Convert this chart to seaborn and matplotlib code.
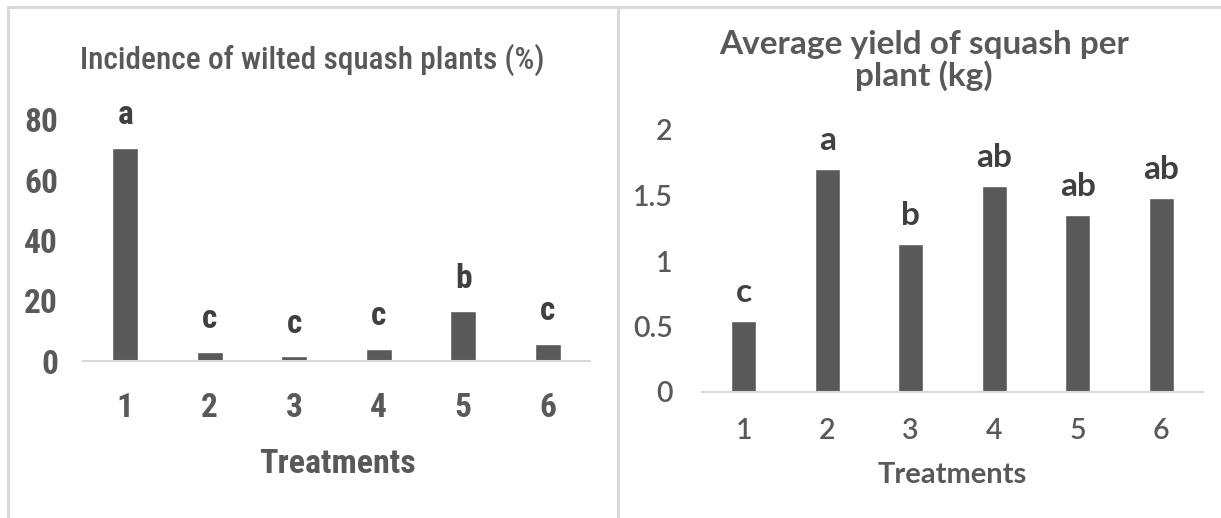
import os
import matplotlib
matplotlib.use("Agg")
import matplotlib.pyplot as plt
from matplotlib import font_manager
from matplotlib.font_manager import FontProperties
from matplotlib.lines import Line2D
import seaborn as sns
import pandas as pd

# Treatment numbers shared by both panels
treatments = ["1", "2", "3", "4", "5", "6"]

# Incidence of wilted squash plants (%)
wilt_pct = [70.8, 3.1, 1.6, 4.1, 16.5, 5.7]
wilt_letters = ["a", "c", "c", "c", "b", "c"]

# Average yield of squash per plant (kg)
yield_kg = [0.54, 1.70, 1.13, 1.57, 1.35, 1.48]
yield_letters = ["c", "a", "b", "ab", "ab", "ab"]

wilt_ticks = [0, 20, 40, 60, 80]
yield_ticks = [0, 0.5, 1, 1.5, 2]
yield_tick_labels = ["0", "0.5", "1", "1.5", "2"]

sns.set_theme(style="white")

_WEIGHT_WORDS = ["semibold", "extrabold", "extralight", "light", "thin",
                 "medium", "black", "bold"]


def _weight_of(key):
    for w in _WEIGHT_WORDS:
        if w in key:
            return w
    return "regular"


def narrow_font(weights):
    """FontProperties for an installed narrow / condensed sans face,
    trying the requested weights in order."""
    entries = []
    for f in font_manager.fontManager.ttflist:
        key = (f.name + " " + os.path.basename(f.fname)).lower()
        if not ("narrow" in key or "condensed" in key or "cond" in key):
            continue
        if "italic" in key or "oblique" in key:
            continue
        rank = 9
        for r, fam in enumerate(["liberation", "arial", "roboto", "open sans",
                                 "noto sans", "dejavu"]):
            if fam in key:
                rank = r
                break
        entries.append((rank, _weight_of(key), f.fname))
    for w in weights:
        cands = sorted(e for e in entries if e[1] == w)
        if cands:
            return FontProperties(fname=cands[0][2])
    return FontProperties(family="Liberation Sans",
                          weight="bold" if "bold" in weights else "normal")


NARROW_M = narrow_font(["medium", "regular"])
NARROW_B = narrow_font(["bold", "semibold"])

BAR = "#595959"
TXT = "#595959"
LET = "#404040"
EDGE = "#d9d9d9"
ROUND = ["Lato", "DejaVu Sans"]

W, H = 1221, 518
fig = plt.figure(figsize=(W / 100, H / 100), dpi=100)


def fx(px):
    return px / W


def fy(py):
    return 1 - py / H


def nfont(base, size):
    p = base.copy()
    p.set_size(size)
    return p


# Panel frames
for seg in [((8, 8), (7, H)), ((8, W), (7, 7)), ((617.5, 617.5), (7, H))]:
    fig.add_artist(Line2D([fx(seg[0][0]), fx(seg[0][1])],
                          [fy(seg[1][0]), fy(seg[1][1])],
                          color=EDGE, lw=2.2, transform=fig.transFigure))

df_wilt = pd.DataFrame({"Treatment": treatments, "Value": wilt_pct})
df_yield = pd.DataFrame({"Treatment": treatments, "Value": yield_kg})

# ---------- Left panel: wilt incidence ----------
ax1 = fig.add_axes([fx(83), fy(361), fx(590) - fx(83), fy(120) - fy(361)])
sns.barplot(data=df_wilt, x="Treatment", y="Value", color=BAR, width=0.31,
            saturation=1, ax=ax1)
ax1.set_xlim(-0.5, 5.5)
ax1.set_ylim(0, 80)
ax1.set_yticks(wilt_ticks)
ax1.set_yticklabels([str(t) for t in wilt_ticks])
for s in ["top", "right", "left"]:
    ax1.spines[s].set_visible(False)
ax1.spines["bottom"].set_color(EDGE)
ax1.spines["bottom"].set_linewidth(1.5)
ax1.tick_params(axis="both", length=0)
ax1.tick_params(axis="y", pad=18)
ax1.tick_params(axis="x", pad=22)
for lab in ax1.get_xticklabels() + ax1.get_yticklabels():
    lab.set_fontproperties(nfont(NARROW_B, 24))
    lab.set_color(TXT)
ax1.set_xlabel("")
ax1.set_ylabel("")
for i, (v, t) in enumerate(zip(wilt_pct, wilt_letters)):
    ax1.annotate(t, (i, v), xytext=(0, 17), textcoords="offset points",
                 ha="center", va="baseline", fontproperties=nfont(NARROW_B, 24),
                 color=LET)
fig.text(fx(312), fy(69), "Incidence of wilted squash plants (%)",
         ha="center", va="baseline", fontproperties=nfont(NARROW_M, 22.5),
         color=TXT)
fig.text(fx(337), fy(473), "Treatments", ha="center", va="baseline",
         fontproperties=nfont(NARROW_B, 24.5), color=TXT)

# ---------- Right panel: yield ----------
ax2 = fig.add_axes([fx(702), fy(392), fx(1203) - fx(702), fy(130) - fy(392)])
sns.barplot(data=df_yield, x="Treatment", y="Value", color=BAR, width=0.305,
            saturation=1, ax=ax2)
ax2.set_xlim(-0.5, 5.5)
ax2.set_ylim(0, 2)
ax2.set_yticks(yield_ticks)
ax2.set_yticklabels(yield_tick_labels)
for s in ["top", "right", "left"]:
    ax2.spines[s].set_visible(False)
ax2.spines["bottom"].set_color(EDGE)
ax2.spines["bottom"].set_linewidth(1.5)
ax2.tick_params(axis="both", length=0)
ax2.tick_params(axis="y", pad=21)
ax2.tick_params(axis="x", pad=19)
for lab in ax2.get_xticklabels() + ax2.get_yticklabels():
    lab.set_family(ROUND)
    lab.set_fontsize(20.5)
    lab.set_fontweight("semibold")
    lab.set_color(TXT)
ax2.set_xlabel("")
ax2.set_ylabel("")
for i, (v, t) in enumerate(zip(yield_kg, yield_letters)):
    ax2.annotate(t, (i, v), xytext=(0, 14), textcoords="offset points",
                 ha="center", va="baseline", fontsize=24, fontweight="bold",
                 family=ROUND, color=LET)
fig.text(fx(924), fy(54), "Average yield of squash per",
         ha="center", va="baseline", fontsize=24, fontweight="bold",
         family=ROUND, color=TXT)
fig.text(fx(924), fy(86), "plant (kg)",
         ha="center", va="baseline", fontsize=24, fontweight="bold",
         family=ROUND, color=TXT)
fig.text(fx(952), fy(483), "Treatments", ha="center", va="baseline",
         fontsize=21, fontweight="bold", family=ROUND, color=TXT)

fig.savefig("out.png", dpi=100, facecolor="white")
